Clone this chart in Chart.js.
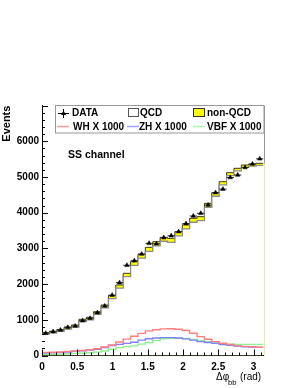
<!DOCTYPE html>
<html>
<head>
<meta charset="utf-8">
<script src="https://cdn.jsdelivr.net/npm/chart.js@4.4.1/dist/chart.umd.min.js"></script>
<style>
  html, body { margin: 0; padding: 0; background: #fff; }
  #wrap { width: 300px; height: 388px; }
</style>
</head>
<body>
<div id="wrap"><canvas id="dphiChart" width="300" height="388"></canvas></div>
<script>
// histogram binning: 30 bins in delta phi between 0 and pi
const nBins = 30;
const xMin = 0;
const xMax = Math.PI;

// events per bin
const dataEvents = [622, 667, 714, 790, 826, 975, 1042, 1199, 1387, 1690,
  2040, 2527, 2655, 2843, 3143, 3130, 3300, 3356, 3468, 3695,
  3907, 3983, 4216, 4561, 4660, 4985, 5056, 5265, 5364, 5510];
const qcdEvents = [600, 635, 675, 740, 794, 949, 1000, 1152, 1334, 1595,
  1885, 2207, 2523, 2725, 2915, 3073, 3200, 3167, 3353, 3545,
  3733, 3779, 4152, 4461, 4779, 5041, 5173, 5271, 5304, 5323];
const nonQcdEvents = [40, 45, 50, 55, 60, 65, 70, 75, 80, 85,
  90, 95, 105, 110, 115, 115, 110, 115, 115, 115,
  110, 110, 110, 100, 90, 80, 70, 65, 60, 60];
const whEvents = [85, 90, 100, 110, 125, 140, 160, 190, 240, 295,
  380, 460, 540, 620, 690, 720, 745, 750, 735, 700,
  625, 530, 455, 390, 345, 310, 270, 255, 245, 230];
const zhEvents = [70, 75, 85, 100, 120, 135, 150, 175, 225, 280,
  311, 340, 370, 430, 470, 490, 500, 500, 490, 465,
  430, 390, 365, 340, 310, 285, 265, 245, 235, 228];
const vbfEvents = [30, 32, 38, 50, 60, 65, 75, 95, 125, 175,
  220, 250, 270, 320, 365, 420, 470, 480, 480, 475,
  450, 415, 385, 355, 330, 315, 310, 312, 313, 313];

const xTickLabels = [0, 0.5, 1, 1.5, 2, 2.5, 3];
const yTickLabels = [0, 1000, 2000, 3000, 4000, 5000, 6000];
const yMax = 7000;

const FONT = "'Liberation Sans', Arial, sans-serif";

// step points at the lower bin edges, plus the closing edge
function stepPoints(values) {
  const w = (xMax - xMin) / nBins;
  const pts = values.map((v, i) => ({ x: xMin + i * w, y: v }));
  pts.push({ x: xMax, y: values[values.length - 1] });
  return pts;
}

function centerPoints(values) {
  const w = (xMax - xMin) / nBins;
  return values.map((v, i) => ({ x: xMin + (i + 0.5) * w, y: v }));
}

function stepLine(label, values, color, width, order) {
  return {
    label: label,
    data: stepPoints(values),
    borderColor: color,
    borderWidth: width,
    backgroundColor: "transparent",
    pointRadius: 0,
    stepped: true,
    fill: false,
    order: order,
  };
}

const rootDecor = {
  id: "rootDecor",
  afterDraw(chart) {
    const ctx = chart.ctx;
    const xs = chart.scales.x;
    const ys = chart.scales.y;
    const area = chart.chartArea;
    ctx.save();

    // inward ticks
    ctx.strokeStyle = "#000";
    ctx.lineWidth = 1;
    ctx.beginPath();
    for (let v = 0; v <= yMax; v += 200) {
      const py = Math.round(ys.getPixelForValue(v)) + 0.5;
      const len = v % 1000 === 0 ? 6 : 3;
      ctx.moveTo(area.left, py);
      ctx.lineTo(area.left + len, py);
    }
    for (let k = 0; k / 10 <= xMax; k++) {
      const px = Math.round(xs.getPixelForValue(k / 10)) + 0.5;
      const len = k % 5 === 0 ? 6 : 3;
      ctx.moveTo(px, area.bottom);
      ctx.lineTo(px, area.bottom - len);
    }
    ctx.stroke();

    // right edge of the stack
    const rx = Math.round(xs.getPixelForValue(xMax)) + 0.5;
    const topStack = ys.getPixelForValue(qcdEvents[nBins - 1] + nonQcdEvents[nBins - 1]);
    ctx.strokeStyle = "#e8e8b0";
    ctx.beginPath();
    ctx.moveTo(rx, area.bottom);
    ctx.lineTo(rx, topStack);
    ctx.stroke();
    ctx.strokeStyle = "#999";
    ctx.beginPath();
    ctx.moveTo(rx, topStack);
    ctx.lineTo(rx, area.top);
    ctx.stroke();

    // titles
    ctx.fillStyle = "#000";
    ctx.font = "bold 11px " + FONT;
    ctx.save();
    ctx.translate(10, area.top);
    ctx.rotate(-Math.PI / 2);
    ctx.textAlign = "right";
    ctx.textBaseline = "alphabetic";
    ctx.fillText("Events", 0, 0);
    ctx.restore();

    ctx.font = "bold 10.5px " + FONT;
    ctx.textAlign = "left";
    ctx.textBaseline = "middle";
    ctx.fillText("SS channel", 68, 155);

    ctx.font = "10px " + FONT;
    ctx.textBaseline = "alphabetic";
    ctx.fillText("\u0394\u03c6", 216, 380);
    ctx.font = "7.5px " + FONT;
    ctx.fillText("bb", 228, 385);
    ctx.font = "10px " + FONT;
    ctx.fillText("(rad)", 240, 380);

    // legend
    const lx = 55.5, ly = 105.5, lw = 208.5, lh = 27.5;
    ctx.fillStyle = "#fff";
    ctx.fillRect(lx, ly, lw, lh);
    ctx.strokeStyle = "#999";
    ctx.strokeRect(lx, ly, lw, lh);

    const row1 = 113, row2 = 126.5;
    ctx.font = "bold 10px " + FONT;
    ctx.fillStyle = "#000";
    ctx.textBaseline = "middle";

    // DATA marker
    ctx.strokeStyle = "#000";
    ctx.beginPath();
    ctx.moveTo(58, row1 + 0.5); ctx.lineTo(69, row1 + 0.5);
    ctx.moveTo(63.5, row1 - 4); ctx.lineTo(63.5, row1 + 5);
    ctx.stroke();
    ctx.beginPath();
    ctx.moveTo(63.5, row1 - 2.5); ctx.lineTo(66, row1 + 2); ctx.lineTo(61, row1 + 2);
    ctx.closePath();
    ctx.fill();
    ctx.fillText("DATA", 72, row1 + 0.5);

    ctx.strokeStyle = "#555";
    ctx.strokeRect(128.5, row1 - 4.5, 10, 8);
    ctx.fillText("QCD", 140, row1 + 0.5);

    ctx.fillStyle = "#ffff00";
    ctx.fillRect(193.5, row1 - 4.5, 11, 8);
    ctx.strokeStyle = "#333";
    ctx.strokeRect(193.5, row1 - 4.5, 11, 8);
    ctx.fillStyle = "#000";
    ctx.fillText("non-QCD", 207, row1 + 0.5);

    const sig = [
      ["WH X 1000", "#ff9a9a", 57, 73],
      ["ZH X 1000", "#a0a0ff", 127, 139],
      ["VBF X 1000", "#aaf5aa", 193, 207],
    ];
    ctx.lineWidth = 1.5;
    sig.forEach(([name, color, x0, tx]) => {
      ctx.strokeStyle = color;
      ctx.beginPath();
      ctx.moveTo(x0, row2);
      ctx.lineTo(x0 + 12, row2);
      ctx.stroke();
      ctx.fillText(name, tx, row2 + 0.5);
    });

    ctx.restore();
  },
};

const ctx = document.getElementById("dphiChart").getContext("2d");

// stack: total (QCD + non-QCD) drawn first in yellow, QCD in white over it
const totalEvents = qcdEvents.map((v, i) => v + nonQcdEvents[i]);
const totalSet = stepLine("non-QCD", totalEvents, "#3a3a10", 1, 4);
totalSet.fill = "origin";
totalSet.backgroundColor = "#ffff00";
const qcdSet = stepLine("QCD", qcdEvents, "#8c8c8c", 1.3, 3);
qcdSet.fill = "origin";
qcdSet.backgroundColor = "#ffffff";

const dataBars = {
  label: "DATA err",
  data: centerPoints(dataEvents),
  showLine: false,
  pointStyle: "line",
  pointRadius: 3.7,
  borderColor: "#333",
  borderWidth: 1,
  order: 0,
};
const dataMarkers = {
  label: "DATA",
  data: centerPoints(dataEvents),
  showLine: false,
  pointStyle: "triangle",
  pointRadius: 2.6,
  backgroundColor: "#000",
  borderColor: "#000",
  borderWidth: 0.5,
  order: 0,
};

new Chart(ctx, {
  type: "line",
  data: {
    datasets: [
      dataMarkers,
      dataBars,
      stepLine("WH X 1000", whEvents, "#ff7f7f", 1.4, 1),
      stepLine("ZH X 1000", zhEvents, "#8080ff", 1.4, 1),
      stepLine("VBF X 1000", vbfEvents, "#8ef08e", 1.4, 1),
      qcdSet,
      totalSet,
    ],
  },
  options: {
    responsive: false,
    animation: false,
    layout: { padding: { left: 0, top: 105.6, right: 36.5, bottom: 0 } },
    plugins: {
      legend: { display: false },
      tooltip: { enabled: false },
      filler: { propagate: false },
    },
    scales: {
      x: {
        type: "linear",
        min: xMin,
        max: xMax,
        afterFit: (s) => { s.height = 32.5; },
        afterBuildTicks: (s) => { s.ticks = xTickLabels.map((v) => ({ value: v })); },
        grid: { display: false, drawTicks: false },
        border: { display: true, color: "#000", width: 1 },
        ticks: {
          padding: 6,
          maxRotation: 0,
          color: "#000",
          font: { family: FONT, size: 10, weight: "bold" },
          callback: (v) => String(v),
        },
      },
      y: {
        min: 0,
        max: yMax,
        afterFit: (s) => { s.width = 42; },
        afterBuildTicks: (s) => { s.ticks = yTickLabels.map((v) => ({ value: v })); },
        grid: { display: false, drawTicks: false },
        border: { display: true, color: "#000", width: 1 },
        ticks: {
          padding: 3,
          color: "#000",
          font: { family: FONT, size: 10, weight: "bold" },
          callback: (v) => String(v),
        },
      },
    },
  },
  plugins: [rootDecor],
});
</script>
</body>
</html>
